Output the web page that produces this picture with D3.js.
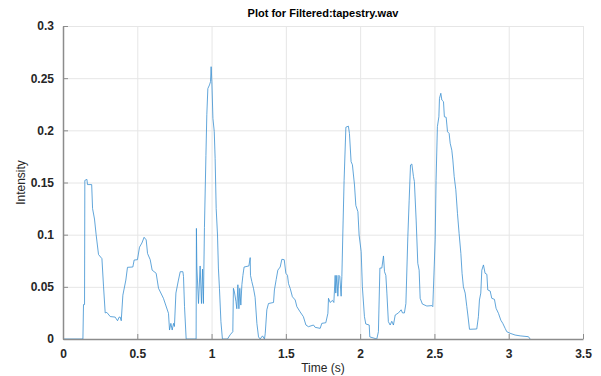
<!DOCTYPE html>
<html>
<head>
<meta charset="utf-8">
<script src="https://cdn.jsdelivr.net/npm/d3@7"></script>
<style>
  body { margin: 0; background: #fff; }
  text { font-family: "Liberation Sans", Arial, sans-serif; }
</style>
</head>
<body>
<div id="chart"></div>
<script>
// Data
var time = [0, 0.134, 0.138, 0.145, 0.147, 0.161, 0.165, 0.193, 0.199, 0.212, 0.223, 0.239, 0.262, 0.273, 0.284, 0.295, 0.318, 0.351, 0.367, 0.378, 0.385, 0.392,
  0.403, 0.423, 0.434, 0.470, 0.479, 0.501, 0.515, 0.531, 0.546, 0.560, 0.569, 0.587, 0.600, 0.627, 0.643, 0.676, 0.710, 0.717, 0.726, 0.735, 0.744, 0.750,
  0.760, 0.777, 0.789, 0.807, 0.811, 0.818, 0.829, 0.896, 0.898, 0.901, 0.912, 0.923, 0.932, 0.939, 0.945, 0.952, 0.962, 0.968, 0.975, 0.986, 0.993, 0.997,
  1.002, 1.009, 1.018, 1.024, 1.031, 1.040, 1.046, 1.053, 1.063, 1.073, 1.107, 1.125, 1.143, 1.147, 1.154, 1.164, 1.170, 1.177, 1.184, 1.190, 1.197, 1.204,
  1.211, 1.219, 1.251, 1.260, 1.262, 1.271, 1.282, 1.293, 1.305, 1.316, 1.327, 1.343, 1.356, 1.361, 1.372, 1.383, 1.417, 1.423, 1.435, 1.446, 1.462, 1.473,
  1.489, 1.500, 1.511, 1.518, 1.529, 1.544, 1.563, 1.574, 1.596, 1.618, 1.635, 1.652, 1.686, 1.697, 1.731, 1.742, 1.769, 1.783, 1.787, 1.798, 1.814, 1.823,
  1.832, 1.836, 1.843, 1.850, 1.857, 1.863, 1.872, 1.877, 1.884, 1.892, 1.904, 1.921, 1.928, 1.939, 1.948, 1.962, 1.971, 1.985, 1.993, 2.007, 2.015, 2.029,
  2.038, 2.061, 2.065, 2.112, 2.123, 2.133, 2.146, 2.157, 2.164, 2.173, 2.180, 2.190, 2.202, 2.213, 2.224, 2.236, 2.258, 2.276, 2.285, 2.298, 2.308, 2.321,
  2.330, 2.339, 2.348, 2.359, 2.365, 2.377, 2.388, 2.397, 2.404, 2.419, 2.449, 2.483, 2.489, 2.493, 2.505, 2.511, 2.520, 2.530, 2.534, 2.543, 2.550, 2.561,
  2.567, 2.579, 2.588, 2.599, 2.606, 2.617, 2.624, 2.633, 2.644, 2.655, 2.666, 2.678, 2.686, 2.695, 2.707, 2.718, 2.725, 2.736, 2.785, 2.796, 2.803, 2.812,
  2.819, 2.830, 2.841, 2.853, 2.859, 2.875, 2.886, 2.904, 2.915, 2.931, 2.947, 2.960, 2.976, 2.987, 3.009, 3.043, 3.077, 3.133, 3.144];

var intensity = [0, 0, 0.033, 0.033, 0.152, 0.153, 0.148, 0.148, 0.125, 0.115, 0.100, 0.081, 0.077, 0.050, 0.025, 0.0255, 0.0215, 0.021, 0.0175, 0.021, 0.021, 0.0175,
  0.042, 0.0565, 0.0687, 0.069, 0.0757, 0.076, 0.088, 0.092, 0.0975, 0.095, 0.082, 0.076, 0.066, 0.063, 0.0486, 0.039, 0.0246, 0.0086, 0.015, 0.0086, 0.015, 0.012,
  0.044, 0.0565, 0.0645, 0.0645, 0.060, 0.031, 0, 0, 0.106, 0.069, 0.034, 0.070, 0.034, 0.067, 0.034, 0.107, 0.176, 0.215, 0.240, 0.2435, 0.2466, 0.261,
  0.2466, 0.2115, 0.199, 0.173, 0.125, 0.0997, 0.068, 0.0486, 0.0166, 0, 0, 0.004, 0.007, 0.0486, 0.045, 0.036, 0.029, 0.052, 0.029, 0.0486, 0.0325, 0.052,
  0.061, 0.069, 0.070, 0.078, 0.061, 0.055, 0.0486, 0.040, 0.015, 0.002, 0, 0.003, 0, 0.005, 0.028, 0.034, 0.035, 0.047, 0.057, 0.066, 0.069, 0.0764,
  0.076, 0.063, 0.061, 0.053, 0.0486, 0.0405, 0.0374, 0.031, 0.026, 0.0214, 0.0134, 0.0118, 0.0134, 0.0112, 0.0102, 0.015, 0.0156, 0.0246, 0.039, 0.035, 0.037, 0.035,
  0.061, 0.044, 0.061, 0.041, 0.061, 0.060, 0.041, 0.060, 0.1045, 0.152, 0.203, 0.204, 0.197, 0.170, 0.167, 0.1476, 0.128, 0.122, 0.0997, 0.0837, 0.050, 0.0214,
  0.0144, 0.0134, 0.002, 0, 0.007, 0.068, 0.068, 0.0796, 0.0645, 0.061, 0.044, 0.0166, 0.0134, 0.017, 0.0134, 0.023, 0.025, 0.028, 0.025, 0.025, 0.034, 0.098,
  0.133, 0.1668, 0.1677, 0.1556, 0.151, 0.114, 0.0726, 0.066, 0.039, 0.0335, 0.0316, 0.032, 0.031, 0.047, 0.095, 0.152, 0.2035, 0.213, 0.2307, 0.2355, 0.229, 0.2275,
  0.213, 0.2125, 0.1987, 0.197, 0.1876, 0.181, 0.1716, 0.1556, 0.143, 0.1205, 0.1013, 0.082, 0.063, 0.050, 0.044, 0.031, 0.023, 0.0093, 0.0096, 0.0214, 0.0374, 0.044,
  0.066, 0.071, 0.063, 0.062, 0.047, 0.046, 0.039, 0.038, 0.0294, 0.0246, 0.018, 0.015, 0.0102, 0.007, 0.0055, 0.0038, 0.003, 0.0022, 0];

var xTicks = [0, 0.5, 1, 1.5, 2, 2.5, 3, 3.5];
var yTicks = [0, 0.05, 0.1, 0.15, 0.2, 0.25, 0.3];

var svgWidth = 601;
var svgHeight = 376;
var margin = { top: 26, right: 18, bottom: 37, left: 63 };
var width = svgWidth - margin.left - margin.right;
var height = svgHeight - margin.top - margin.bottom;

var svg = d3.select("#chart")
  .append("svg")
  .attr("width", svgWidth)
  .attr("height", svgHeight);

var g = svg.append("g")
  .attr("transform", `translate(${margin.left}, ${margin.top})`);

var xScale = d3.scaleLinear().domain([0, 3.5]).range([0, width]);
var yScale = d3.scaleLinear().domain([0, 0.3]).range([height, 0]);

// grid
g.selectAll(".vgrid").data(xTicks).enter().append("line")
  .attr("x1", d => xScale(d) + 0.5).attr("x2", d => xScale(d) + 0.5)
  .attr("y1", 0).attr("y2", height)
  .attr("stroke", "#e6e6e6").attr("stroke-width", 1);
g.selectAll(".hgrid").data(yTicks).enter().append("line")
  .attr("x1", 0).attr("x2", width)
  .attr("y1", d => yScale(d) + 0.5).attr("y2", d => yScale(d) + 0.5)
  .attr("stroke", "#e6e6e6").attr("stroke-width", 1);

// signal
var line = d3.line()
  .x((d, i) => xScale(time[i]))
  .y(d => yScale(d));

g.append("path")
  .datum(intensity)
  .attr("d", line)
  .attr("fill", "none")
  .attr("stroke", "#3a8fd0")
  .attr("stroke-width", 0.8);

// axes (ticks point inward)
var xAxis = g.append("g")
  .attr("transform", `translate(0, ${height})`)
  .call(d3.axisBottom(xScale).tickValues(xTicks).tickSizeInner(-5).tickSizeOuter(0).tickPadding(10).tickFormat(d3.format("")));
var yAxis = g.append("g")
  .call(d3.axisLeft(yScale).tickValues(yTicks).tickSizeInner(-5).tickSizeOuter(0).tickPadding(9).tickFormat(d3.format("")));

[xAxis, yAxis].forEach(function(ax) {
  ax.select(".domain").attr("stroke", "#8c8c8c").attr("stroke-width", 1.5);
  ax.selectAll(".tick line").attr("stroke", "#8c8c8c");
  ax.selectAll(".tick text")
    .attr("fill", "#262626")
    .style("font-size", "12px")
    .style("font-weight", "bold")
    .style("font-family", "'Liberation Sans', Arial, sans-serif");
});

// labels
svg.append("text")
  .attr("x", margin.left + width / 2)
  .attr("y", 17)
  .attr("text-anchor", "middle")
  .style("font-size", "11px")
  .style("font-weight", "bold")
  .attr("fill", "#000")
  .text("Plot for Filtered:tapestry.wav");

svg.append("text")
  .attr("x", margin.left + width / 2)
  .attr("y", 372)
  .attr("text-anchor", "middle")
  .style("font-size", "12px")
  .attr("fill", "#262626")
  .text("Time (s)");

svg.append("text")
  .attr("transform", `translate(25, ${margin.top + height / 2}) rotate(-90)`)
  .attr("text-anchor", "middle")
  .style("font-size", "12px")
  .attr("fill", "#262626")
  .text("Intensity");
</script>
</body>
</html>
